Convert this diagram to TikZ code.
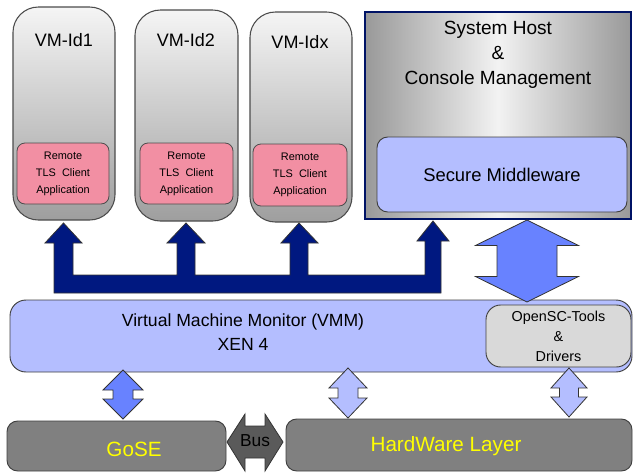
\documentclass[tikz,border=0pt]{standalone}
\usepackage{fontspec}
\setmainfont{Liberation Sans}
\usetikzlibrary{fit}
\definecolor{navyarrow}{RGB}{0,24,128}
\definecolor{midblue}{RGB}{104,130,255}
\definecolor{paleblue}{RGB}{180,190,255}
\definecolor{tlspink}{RGB}{242,143,163}
\definecolor{hwgrey}{RGB}{128,128,128}
\definecolor{busgrey}{RGB}{90,90,90}
\definecolor{toolgrey}{RGB}{217,217,217}
\definecolor{hwyellow}{RGB}{255,255,0}
\tikzset{
  vmbox/.style={draw=black!70, line width=0.8pt, rounded corners=19pt, top color=white!96!black, bottom color=black!38, inner sep=0pt},
  tlsbox/.style={draw=black!70, line width=0.6pt, rounded corners=6pt, fill=tlspink, inner sep=0pt},
  hostbox/.style={draw=navyarrow!80!black, line width=1.6pt, left color=black!40, right color=black!40, middle color=white!95!black, inner sep=0pt},
  midbox/.style={draw=black!75, line width=0.7pt, rounded corners=8pt, fill=paleblue, inner sep=0pt},
  vmmbox/.style={draw=black!75, line width=0.7pt, rounded corners=12pt, fill=paleblue, inner sep=0pt},
  toolbox/.style={draw=black!75, line width=0.7pt, rounded corners=11pt, fill=toolgrey, inner sep=0pt},
  hwbox/.style={draw=black!75, line width=0.7pt, rounded corners=8pt, fill=hwgrey, inner sep=0pt},
  hwtext/.style={text=hwyellow, font=\fontsize{15.5}{18}\selectfont},
  tlstext/.style={align=center, font=\fontsize{8.2}{12.8}\selectfont},
  blockarrow/.style={draw=black!80, line width=0.6pt}
}
% vertical double arrow: centre x, top y, bottom y, half head, half stem, head length
\newcommand{\vblock}[7]{%
  \filldraw[blockarrow, fill=#7] (#1,#2) -- ({#1+#4},{#2+#6}) -- ({#1+#5},{#2+#6})
    -- ({#1+#5},{#3-#6}) -- ({#1+#4},{#3-#6}) -- (#1,#3) -- ({#1-#4},{#3-#6})
    -- ({#1-#5},{#3-#6}) -- ({#1-#5},{#2+#6}) -- ({#1-#4},{#2+#6}) -- cycle;}

\begin{document}
\begin{tikzpicture}[x=0.75pt,y=-0.75pt]
  \useasboundingbox (0,0) rectangle (636,472);

  % virtual machines
  \node[vmbox, fit={(13,7) (115,220)}] (vm1) {};
  \node[vmbox, fit={(135,10) (238,221)}] (vm2) {};
  \node[vmbox, fit={(250,12) (352,222)}] (vmx) {};
  \node[font=\fontsize{13.5}{16}\selectfont] (vm1t) at (64,40) {VM-Id1};
  \node[font=\fontsize{13.5}{16}\selectfont] (vm2t) at (186,40) {VM-Id2};
  \node[font=\fontsize{13.5}{16}\selectfont] (vmxt) at (300,42) {VM-Idx};
  \node[tlsbox, fit={(17,143) (109,204)}] (tls1) {};
  \node[tlsbox, fit={(140,143) (233,204)}] (tls2) {};
  \node[tlsbox, fit={(253,144) (347,206)}] (tlsx) {};
  \node[tlstext] at (tls1.center) {Remote\\TLS\ \ Client\\Application};
  \node[tlstext] at (tls2.center) {Remote\\TLS\ \ Client\\Application};
  \node[tlstext] at (tlsx.center) {Remote\\TLS\ \ Client\\Application};

  % host
  \node[hostbox, fit={(365,12) (631,219)}] (host) {};
  \node[align=center, font=\fontsize{14.3}{18.8}\selectfont] (hostt) at (498,55) {System Host\\\&\\Console Management};
  \node[midbox, fit={(377,137) (627,212)}] (mw) {};
  \node[font=\fontsize{13.8}{16}\selectfont] at (mw.center) {Secure Middleware};

  % VMM
  \node[vmmbox, fit={(10,300) (632,372)}] (vmm) {};
  \node[align=center, font=\fontsize{13.2}{18.5}\selectfont] (vmmt) at (243,332) {Virtual\ Machine\ Monitor\ (VMM)\\XEN 4};
  \node[toolbox, fit={(486,305) (631,367)}] (tools) {};
  \node[align=center, font=\fontsize{10.8}{15}\selectfont] at (tools.center) {OpenSC-Tools\\\&\\Drivers};

  % hardware
  \node[hwbox, fit={(7,421) (226,471)}] (gose) {};
  \node[hwtext] at (134,449) {GoSE};
  \node[hwbox, fit={(286,419) (632,471)}] (hw) {};
  \node[hwtext] at (446,446) {HardWare Layer};

  % dispatch arrows to the VMs
  \filldraw[blockarrow, fill=navyarrow] (54,293) -- (54,243) -- (45,243) -- (63.5,223) -- (82,243)
    -- (73,243) -- (73,275) -- (177,275) -- (177,243) -- (167,243) -- (186,223) -- (205,243)
    -- (195,243) -- (195,275) -- (290,275) -- (290,243) -- (281,243) -- (299,223) -- (318,243)
    -- (308,243) -- (308,275) -- (425,275) -- (425,241) -- (417,241) -- (433,221) -- (449,241)
    -- (441,241) -- (441,293) -- cycle;

  % double arrows
  \vblock{527}{220}{302}{51.5}{30}{25.5}{midblue}
  \vblock{123}{370}{419}{20}{10}{20}{midblue}
  \vblock{348}{368}{418}{19}{10}{20}{paleblue}
  \vblock{569}{368}{417}{18}{9.5}{20}{paleblue}

  % bus
  \filldraw[blockarrow, fill=busgrey] (227,442) -- (245,414) -- (245,426) -- (265,426) -- (265,414)
    -- (283,442) -- (265,471) -- (265,458) -- (245,458) -- (245,471) -- cycle;
  \node[font=\fontsize{13}{16}\selectfont] (bus) at (255,441) {Bus};
\end{tikzpicture}
\end{document}
